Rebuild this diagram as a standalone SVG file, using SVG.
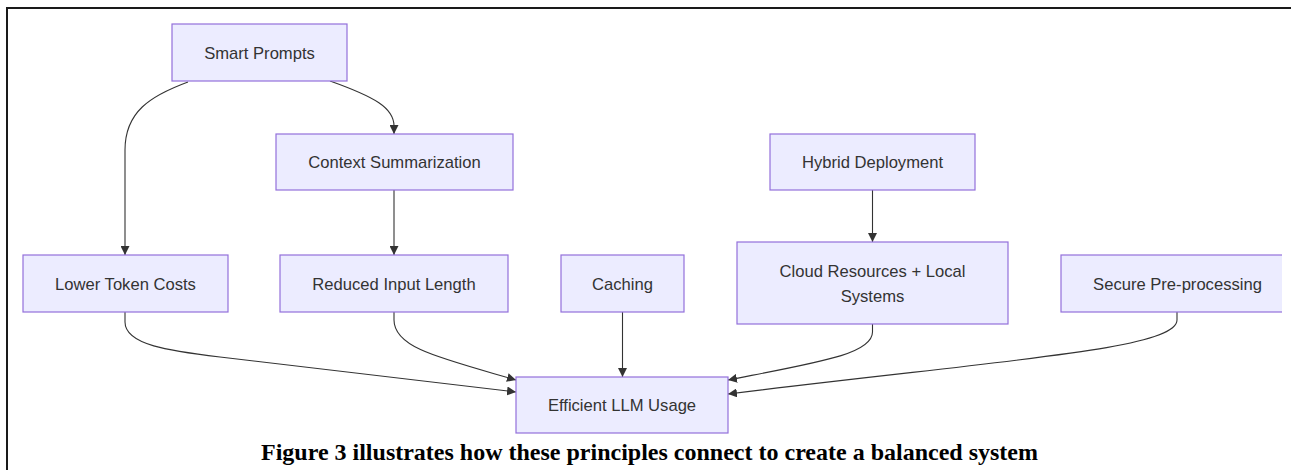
<svg xmlns="http://www.w3.org/2000/svg" width="1291" height="470" viewBox="0 0 1291 470">
  <style>
    .node rect { fill: #ECECFF; stroke: #9370DB; stroke-width: 1.2; }
    .node text { font-family: "Liberation Sans", Arial, sans-serif; font-size: 16.6px; fill: #333333; text-anchor: middle; }
    .edge { fill: none; stroke: #333333; stroke-width: 1.1; }
    .frame { stroke: #1a1a1a; stroke-width: 2; fill: none; }
    .caption { font-family: "Liberation Serif", "Times New Roman", serif; font-weight: bold; font-size: 24px; fill: #000; text-anchor: middle; }
  </style>
  <defs>
    <marker id="arrow" markerWidth="9" markerHeight="9" refX="9" refY="4.5" orient="auto" markerUnits="userSpaceOnUse">
      <path d="M0,0 L9,4.5 L0,9 z" fill="#333333"/>
    </marker>
    <clipPath id="rightEdge">
      <rect x="0" y="0" width="1282" height="470"/>
    </clipPath>
  </defs>

  <rect width="1291" height="470" fill="#ffffff"/>

  <!-- outer frame: top and left rules -->
  <path class="frame" d="M7,470 V8 H1291"/>

  <!-- connectors -->
  <g id="edges">
    <path class="edge" d="M188,82 C150,96 125,112 125,150 V255" marker-end="url(#arrow)"/>
    <path class="edge" d="M330,81 C375,97 394,108 394,126 V134" marker-end="url(#arrow)"/>
    <path class="edge" d="M394,190 V255" marker-end="url(#arrow)"/>
    <path class="edge" d="M872.5,190 V242" marker-end="url(#arrow)"/>
    <path class="edge" d="M125,312 V322 C125,345 170,351 220,357 L516,392" marker-end="url(#arrow)"/>
    <path class="edge" d="M394,312 V320 C394,348 440,358 516,380" marker-end="url(#arrow)"/>
    <path class="edge" d="M622.5,312 V377" marker-end="url(#arrow)"/>
    <path class="edge" d="M872.5,324 V332 C872.5,354 820,362 728,380" marker-end="url(#arrow)"/>
    <path class="edge" d="M1177,312 V320 C1177,350 1000,360 728,394" marker-end="url(#arrow)"/>
  </g>

  <!-- nodes -->
  <g id="smart-prompts" class="node">
    <rect x="172" y="24" width="175" height="57"/>
    <text x="259.5" y="58.5">Smart Prompts</text>
  </g>
  <g id="context-summarization" class="node">
    <rect x="276" y="134" width="237" height="56"/>
    <text x="394.5" y="168">Context Summarization</text>
  </g>
  <g id="hybrid-deployment" class="node">
    <rect x="770" y="134" width="205" height="56"/>
    <text x="872.5" y="168">Hybrid Deployment</text>
  </g>
  <g id="lower-token-costs" class="node">
    <rect x="23" y="255" width="205" height="57"/>
    <text x="125.5" y="289.5">Lower Token Costs</text>
  </g>
  <g id="reduced-input-length" class="node">
    <rect x="280" y="255" width="228" height="57"/>
    <text x="394" y="289.5">Reduced Input Length</text>
  </g>
  <g id="caching" class="node">
    <rect x="561" y="255" width="123" height="57"/>
    <text x="622.5" y="289.5">Caching</text>
  </g>
  <g id="cloud-local" class="node">
    <rect x="737" y="242" width="271" height="82"/>
    <text x="872.5" y="277">Cloud Resources + Local</text>
    <text x="872.5" y="302">Systems</text>
  </g>
  <g id="secure-preprocessing" class="node" clip-path="url(#rightEdge)">
    <rect x="1061" y="255" width="233" height="57"/>
    <text x="1177.5" y="289.5">Secure Pre-processing</text>
  </g>
  <g id="efficient-llm-usage" class="node">
    <rect x="516" y="377" width="212" height="56"/>
    <text x="622" y="411">Efficient LLM Usage</text>
  </g>

  <text class="caption" x="649.5" y="460">Figure 3 illustrates how these principles connect to create a balanced system</text>
</svg>
